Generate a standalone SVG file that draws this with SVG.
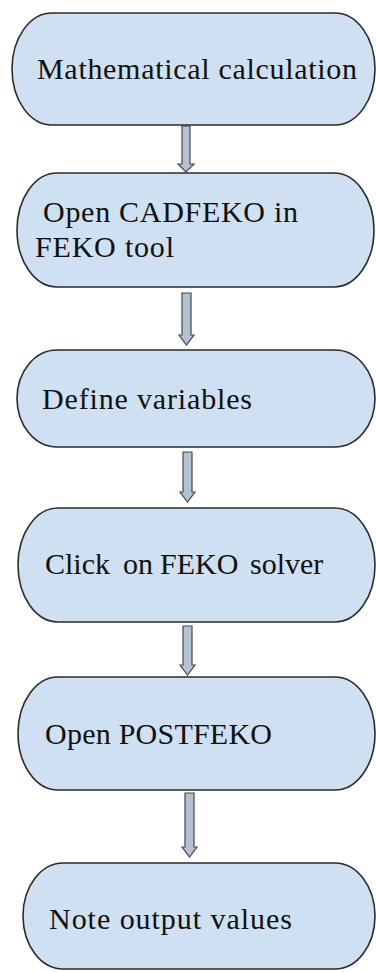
<svg xmlns="http://www.w3.org/2000/svg" width="376" height="972" viewBox="0 0 376 972">
<style>
.node{fill:#cfe0f2;stroke:#2b2b2b;stroke-width:1.6}
.lbl{font-family:'Liberation Serif','Times New Roman',serif;font-size:30px;fill:#111111}
.arr{fill:#b3c2d3;stroke:#474747;stroke-width:1.2;stroke-linejoin:miter}
</style>
<rect width="376" height="972" fill="#ffffff"/>
<g id="connectors">
<path class="arr" d="M182,126 L190,126 L190,164 L194,164 L186,172 L178,164 L182,164 Z"/>
<path class="arr" d="M182,293 L191,293 L191,335 L194,335 L186.5,345 L179,335 L182,335 Z"/>
<path class="arr" d="M183,452 L192,452 L192,492 L195,492 L187.5,502 L180,492 L183,492 Z"/>
<path class="arr" d="M183,626 L192,626 L192,665 L195,665 L187.5,675 L180,665 L183,665 Z"/>
<path class="arr" d="M185,793 L194,793 L194,847 L197,847 L189.5,857 L182,847 L185,847 Z"/>
</g>
<g id="n1">
<rect class="node" x="12" y="13" width="363" height="112" rx="40" ry="56"/>
<text class="lbl" x="37" y="79" textLength="320" lengthAdjust="spacing">Mathematical calculation</text>
</g>
<g id="n2">
<rect class="node" x="17" y="173" width="357" height="114" rx="40" ry="57"/>
<text class="lbl" x="43" y="222" textLength="255" lengthAdjust="spacing">Open CADFEKO in</text>
<text class="lbl" x="35" y="257" textLength="139" lengthAdjust="spacing">FEKO tool</text>
</g>
<g id="n3">
<rect class="node" x="17" y="350" width="358" height="97" rx="40" ry="48.5"/>
<text class="lbl" x="42" y="409" textLength="210" lengthAdjust="spacing">Define variables</text>
</g>
<g id="n4">
<rect class="node" x="18" y="508" width="357" height="114" rx="40" ry="57"/>
<text class="lbl" x="45" y="574">Click <tspan x="123">on</tspan> <tspan x="160">FEKO</tspan> <tspan x="250">solver</tspan></text>
</g>
<g id="n5">
<rect class="node" x="18" y="677" width="357" height="113" rx="40" ry="56.5"/>
<text class="lbl" x="45" y="744" textLength="227" lengthAdjust="spacing">Open POSTFEKO</text>
</g>
<g id="n6">
<rect class="node" x="23" y="863" width="352" height="106" rx="40" ry="53"/>
<text class="lbl" x="49" y="929" textLength="243" lengthAdjust="spacing">Note output values</text>
</g>
</svg>
